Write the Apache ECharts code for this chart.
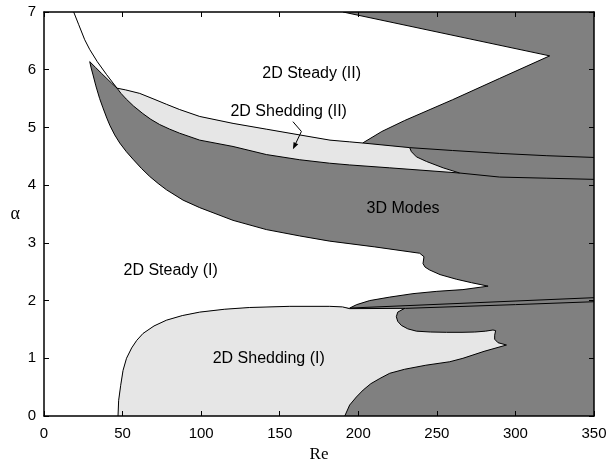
<!DOCTYPE html>
<html>
<head>
<meta charset="utf-8">
<script src="https://cdn.jsdelivr.net/npm/echarts@6/dist/echarts.min.js"></script>
<style>html,body{margin:0;padding:0;background:#fff}#c{width:611px;height:463px}</style>
</head>
<body>
<div id="c"></div>
<script>
// ---- Boundary curves, [Re, alpha] ----
const steadyBoundaryL1 = [[18.9,7],[22.1,6.78],[25.9,6.52],[29.1,6.35],[33.9,6.14],[39.7,5.92],[43.9,5.77],[46.5,5.68]];
const lobeUpperEdge = [[29.1,6.14],[32.8,6.04],[36.5,5.94],[42.9,5.77],[46.5,5.68]];
const lobeLowerEdge = [[29.1,6.14],[30,6.03],[31.2,5.91],[33,5.72],[35.4,5.50],[37.5,5.34],[40,5.16],[42,5.03],[45,4.87],[48.2,4.73],[52.4,4.58],[56.6,4.45],[62,4.29],[67.3,4.15],[72.6,4.03],[77.9,3.92],[88.5,3.74],[99.1,3.61],[120.3,3.39],[141.5,3.23],[162.7,3.12],[181.8,3.03],[210.5,2.93],[239.1,2.82],[241.8,2.76],[241.2,2.64],[242.5,2.58],[245.4,2.53],[252,2.45],[262.4,2.37],[272,2.31],[282.6,2.25],[266.6,2.19],[250,2.16],[234.8,2.12],[220,2.06],[207.3,2.00],[199,1.93],[194.5,1.87]];
const shedIIUpper = [[46.5,5.68],[52,5.65],[60.9,5.59],[70,5.49],[78,5.40],[86.3,5.31],[99.1,5.19],[120.3,5.07],[141.5,4.97],[162.7,4.87],[182,4.78],[194.5,4.75],[202.8,4.73],[232.7,4.65],[260,4.60],[290,4.55],[320,4.51],[350,4.48]];
const shedIILower = [[46.5,5.68],[49,5.59],[52.4,5.49],[57,5.37],[62.9,5.24],[68,5.14],[73.6,5.05],[80,4.97],[86.3,4.90],[99.1,4.78],[120.3,4.67],[141.5,4.53],[162.7,4.44],[181.8,4.38],[194.5,4.35],[220,4.30],[264.5,4.21],[290,4.14],[320,4.12],[350,4.10]];
const shedIIRight = [[232.7,4.65],[233.8,4.58],[237,4.49],[243.4,4.41],[254,4.30],[264.5,4.21]];
const steadyIITipLine = [[202.8,4.73],[215,4.93],[229.5,5.12],[260,5.48],[290,5.85],[321.8,6.24],[190.3,7]];
const shedIUpper = [[47.1,0],[47.5,0.27],[48.8,0.53],[50.3,0.79],[52.5,1.0],[55.8,1.18],[59,1.31],[63,1.43],[70,1.56],[77.9,1.66],[88,1.74],[99.1,1.80],[115,1.85],[130.9,1.88],[156.4,1.90],[181.8,1.90],[190,1.89],[194.5,1.86]];
const thinBandUpper = [[194.5,1.87],[350,2.05]];
const thinBandLower = [[194.5,1.86],[230,1.865],[300,1.93],[350,1.98]];
const shedIRightEdge = [[229.5,1.865],[225.1,1.80],[224.2,1.72],[225.1,1.64],[227.4,1.57],[231.5,1.51],[237,1.47],[246,1.455],[256.1,1.45],[266,1.45],[274.1,1.455],[281,1.47],[285.7,1.49],[287.4,1.48],[286.8,1.40],[286.8,1.33],[288.9,1.27],[294.3,1.23],[280,1.12],[266.6,1.00],[258.2,0.94],[243,0.88],[229.5,0.81],[220,0.74],[213.7,0.65],[208,0.56],[203.1,0.45],[198.8,0.33],[194.5,0.19],[191.4,0]];
const arrowPath = [[158.4,5.10],[163.8,4.93],[158.4,4.62]];

const labelTexts = ['2D Steady (II)','2D Shedding (II)','3D Modes','2D Steady (I)','2D Shedding (I)'];
const labelRe = [170.3,155.7,228.5,80.6,143];
const labelAlpha = [5.94,5.27,3.60,2.52,1.00];

const xTicks = [0,50,100,150,200,250,300,350];
const yTicks = [0,1,2,3,4,5,6,7];

// ---- Region polygons composed from the boundaries ----
const rev = a => a.slice().reverse();
const steadyI = [[0,0],[0,7]].concat(steadyBoundaryL1, rev(lobeUpperEdge).slice(1), lobeLowerEdge.slice(1), rev(shedIUpper).slice(1));
const steadyII = steadyBoundaryL1.concat(shedIIUpper.slice(1, 13), steadyIITipLine.slice(1));
const shedII = shedIIUpper.slice(0, 14).concat(shedIIRight.slice(1), rev(shedIILower.slice(0, 17)).slice(1));
const shedI = shedIUpper.concat(shedIRightEdge);

function polySeries(pts, fill) {
  return {
    type: 'custom', coordinateSystem: 'cartesian2d', silent: true, clip: true, z: 2,
    data: pts,
    renderItem: (params, api) => {
      if (params.dataIndex !== 0) return null;
      return { type: 'polygon', shape: { points: pts.map(p => api.coord(p)) }, style: { fill: fill, stroke: null } };
    }
  };
}
function lineSeries(pts) {
  return {
    type: 'custom', coordinateSystem: 'cartesian2d', silent: true, clip: true, z: 3,
    data: pts,
    renderItem: (params, api) => {
      if (params.dataIndex !== 0) return null;
      return { type: 'polyline', shape: { points: pts.map(p => api.coord(p)) }, style: { stroke: '#000', lineWidth: 1, fill: null } };
    }
  };
}

const DARK = '#808080', LIGHT = '#e6e6e6';
const series = [
  polySeries(steadyI, '#ffffff'),
  polySeries(steadyII, '#ffffff'),
  polySeries(shedII, LIGHT),
  polySeries(shedI, LIGHT),
  lineSeries(steadyBoundaryL1), lineSeries(lobeUpperEdge), lineSeries(lobeLowerEdge),
  lineSeries(shedIIUpper), lineSeries(shedIILower), lineSeries(shedIIRight),
  lineSeries(steadyIITipLine), lineSeries(shedIUpper), lineSeries(thinBandUpper),
  lineSeries(thinBandLower), lineSeries(shedIRightEdge),
  {
    type: 'custom', coordinateSystem: 'cartesian2d', silent: true, z: 4,
    data: arrowPath,
    renderItem: (params, api) => {
      if (params.dataIndex !== 0) return null;
      const pts = arrowPath.map(p => api.coord(p));
      const a = pts[pts.length - 2], b = pts[pts.length - 1];
      const dx = b[0] - a[0], dy = b[1] - a[1], L = Math.hypot(dx, dy);
      const ux = dx / L, uy = dy / L, hl = 7, hw = 2.6;
      const base = [b[0] - ux * hl, b[1] - uy * hl];
      return { type: 'group', children: [
        { type: 'polyline', shape: { points: pts.slice(0, -1).concat([base]) }, style: { stroke: '#000', lineWidth: 1, fill: null } },
        { type: 'polygon', shape: { points: [b, [base[0] - uy * hw, base[1] + ux * hw], [base[0] + uy * hw, base[1] - ux * hw]] }, style: { fill: '#000' } }
      ]};
    }
  },
  {
    type: 'custom', coordinateSystem: 'cartesian2d', silent: true, z: 5,
    data: labelRe.map((r, i) => [r, labelAlpha[i], i]),
    renderItem: (params, api) => {
      const p = api.coord([api.value(0), api.value(1)]);
      return { type: 'text', x: p[0], y: p[1], style: { text: labelTexts[api.value(2)], fill: '#000', fontSize: 16, fontFamily: 'Liberation Sans, Arial, sans-serif', align: 'center', verticalAlign: 'middle' } };
    }
  }
];

const axisCommon = {
  type: 'value', z: 10,
  axisLine: { show: true, onZero: false, lineStyle: { color: '#000', width: 1.5 } },
  axisTick: { show: true, inside: true, length: 5, lineStyle: { color: '#000', width: 1 } },
  splitLine: { show: false }
};
const chart = echarts.init(document.getElementById('c'), null, { renderer: 'canvas' });
chart.setOption({
  animation: false,
  backgroundColor: '#fff',
  grid: { left: 44, right: 17, top: 12, bottom: 47, show: true, backgroundColor: DARK, borderWidth: 0, containLabel: false, outerBoundsMode: 'none' },
  xAxis: [
    Object.assign({}, axisCommon, {
      min: xTicks[0], max: xTicks[xTicks.length - 1], interval: 50, position: 'bottom',
      axisLabel: { color: '#000', fontSize: 15, fontFamily: 'Liberation Sans, Arial, sans-serif', margin: 10 },
      name: 'Re', nameLocation: 'middle', nameGap: 29,
      nameTextStyle: { color: '#000', fontSize: 17, fontFamily: 'Liberation Serif, Times New Roman, serif' }
    }),
    Object.assign({}, axisCommon, { min: xTicks[0], max: xTicks[xTicks.length - 1], interval: 50, position: 'top', axisLabel: { show: false } })
  ],
  yAxis: [
    Object.assign({}, axisCommon, {
      min: yTicks[0], max: yTicks[yTicks.length - 1], interval: 1, position: 'left',
      axisLabel: { color: '#000', fontSize: 15, fontFamily: 'Liberation Sans, Arial, sans-serif', margin: 8 },
      name: 'α', nameLocation: 'middle', nameGap: 24, nameRotate: 0,
      nameTextStyle: { color: '#000', fontSize: 18, fontFamily: 'Liberation Serif, Times New Roman, serif' }
    }),
    Object.assign({}, axisCommon, { min: yTicks[0], max: yTicks[yTicks.length - 1], interval: 1, position: 'right', axisLabel: { show: false } })
  ],
  series: series
});
</script>
</body>
</html>
